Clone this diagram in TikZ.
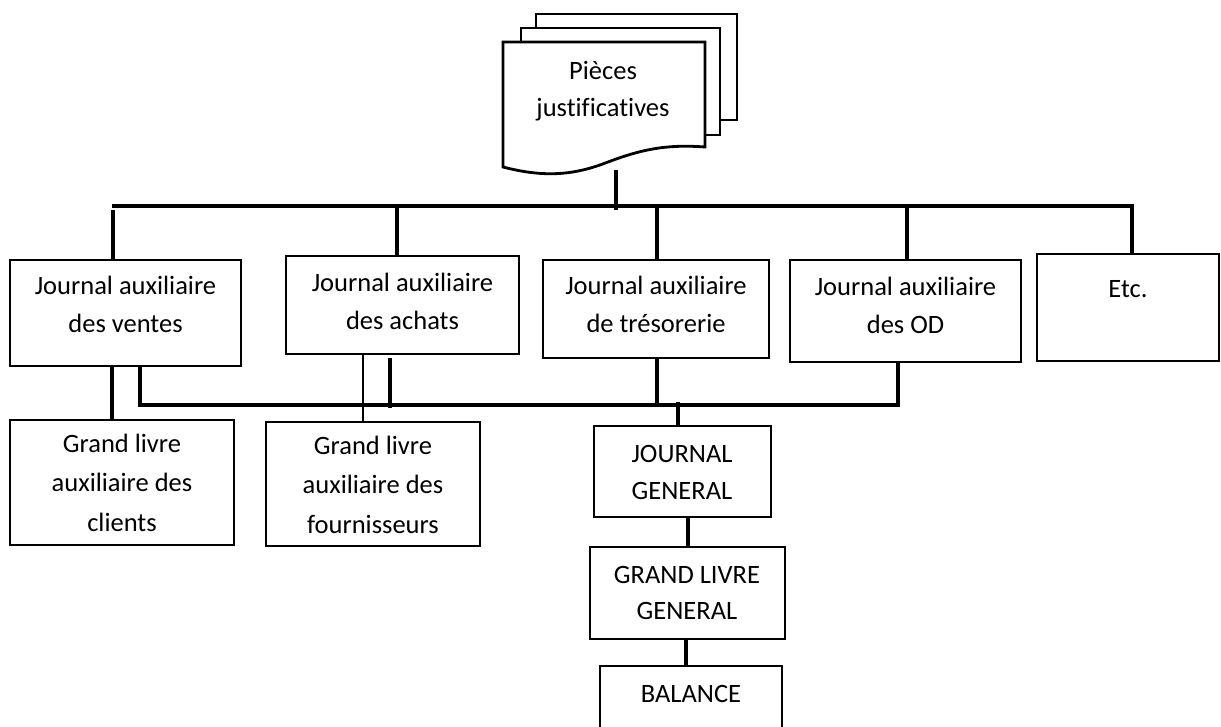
\documentclass[tikz,border=0pt]{standalone}
\usepackage{fontspec}
\setmainfont{Carlito}[Ligatures={NoCommon}]
\begin{document}
\begin{tikzpicture}[x=1pt,y=-1pt,
  box/.style={draw, line width=2.8pt, inner sep=0pt, outer sep=0pt, anchor=north west},
  lbl/.style={font=\fontsize{26.5}{38}\selectfont, align=center, anchor=base, inner sep=0pt},
  docline/.style={line width=2.8pt, line join=miter},
  conn/.style={line width=3.2pt},
  heavy/.style={line width=4.6pt},
  slim/.style={line width=2.4pt}]
\useasboundingbox (0,0) rectangle (1221,727);
\clip (0,0) rectangle (1221,727);

% document stack
\draw[docline, fill=white] (536,14) rectangle (737,120);
\draw[docline, fill=white] (521,28) rectangle (720,135);
\draw[docline, fill=white] (503,42) -- (705,42) -- (705,147)
  .. controls (665,144) and (640,150) .. (608,162)
  .. controls (575,175) and (545,178) .. (503,167) -- cycle;
\node[lbl, font=\fontsize{26.5}{37}\selectfont] (doc) at (603,117) {Pièces\\justificatives};
\coordinate (docbot) at (616,170);
\coordinate (docjoin) at (616,210);

% boxes
\node[box, minimum width=231pt, minimum height=106pt] (vbox) at (10,260) {};
\node[box, minimum width=233pt, minimum height=98pt]  (abox) at (286,256) {};
\node[box, minimum width=226pt, minimum height=98pt]  (tbox) at (543,260) {};
\node[box, minimum width=231pt, minimum height=102pt] (obox) at (790,260) {};
\node[box, minimum width=182pt, minimum height=107pt] (ebox) at (1037,254) {};
\node[box, minimum width=224pt, minimum height=125pt] (cbox) at (10,420) {};
\node[box, minimum width=214pt, minimum height=124pt] (fbox) at (266,422) {};
\node[box, minimum width=177pt, minimum height=91pt]  (jgbox) at (594,426) {};
\node[box, minimum width=195pt, minimum height=92pt]  (glbox) at (590,547) {};
\node[box, minimum width=182pt, minimum height=80pt]  (balbox) at (600,666) {};

% texts (anchored at the baseline of the last line)
\node[lbl] (vtxt) at (125.5,333) {Journal auxiliaire\\des ventes};
\node[lbl] (atxt) at (402.5,330) {Journal auxiliaire\\des achats};
\node[lbl] (ttxt) at (656,333) {Journal auxiliaire\\de trésorerie};
\node[lbl] (otxt) at (905.5,334) {Journal auxiliaire\\des OD};
\node[lbl] (etxt) at (1128,298) {Etc.};
\node[lbl, font=\fontsize{26.5}{39.5}\selectfont] (ctxt) at (122,531) {Grand livre\\auxiliaire des\\clients};
\node[lbl, font=\fontsize{26.5}{39.5}\selectfont] (ftxt) at (373,533) {Grand livre\\auxiliaire des\\fournisseurs};
\node[lbl, font=\fontsize{26.5}{37}\selectfont] (jgtxt) at (682,499) {JOURNAL\\GENERAL};
\node[lbl, font=\fontsize{26.5}{36}\selectfont] (gltxt) at (687,619) {GRAND LIVRE\\GENERAL};
\node[lbl] (baltxt) at (691,702) {BALANCE};

% top bus
\coordinate (b1L) at (112,206);
\coordinate (b1R) at (1134,206);
\draw[conn] (docbot) -- (docjoin);
\draw[conn] (b1L) -- (b1R);
\coordinate (dv) at (113,210);
\coordinate (da) at (397,206);
\coordinate (dt) at (657,206);
\coordinate (do) at (907,206);
\coordinate (de) at (1132,206);
\draw[conn] (dv) -- (dv |- vbox.north);
\draw[conn] (da) -- (da |- abox.north);
\draw[conn] (dt) -- (dt |- tbox.north);
\draw[conn] (do) -- (do |- obox.north);
\draw[conn] (de) -- (de |- ebox.north);

% lower bus
\coordinate (b2L) at (140,405);
\coordinate (b2R) at (898,405);
\draw[heavy, line cap=rect] (b2L) -- (b2R);
\draw[heavy] (b2L) -- (b2L |- vbox.south);
\draw[heavy] (b2R) -- (b2R |- obox.south);
\coordinate (ta) at (390,358);
\coordinate (tb) at (390,408);
\draw[heavy] (ta) -- (tb);
\coordinate (tt) at (657,405);
\draw[heavy] (tt) -- (tt |- tbox.south);
\coordinate (tj) at (678,402);
\draw[heavy] (tj) -- (tj |- jgbox.north);

% links to the ledgers
\coordinate (lc) at (112,366);
\draw[conn] (lc) -- (lc |- cbox.north);
\coordinate (lf) at (363,354);
\draw[slim] (lf) -- (lf |- fbox.north);

% central chain
\coordinate (l1) at (688,517);
\draw[heavy] (l1) -- (l1 |- glbox.north);
\coordinate (l2) at (686,639);
\draw[heavy] (l2) -- (l2 |- balbox.north);
\end{tikzpicture}
\end{document}
